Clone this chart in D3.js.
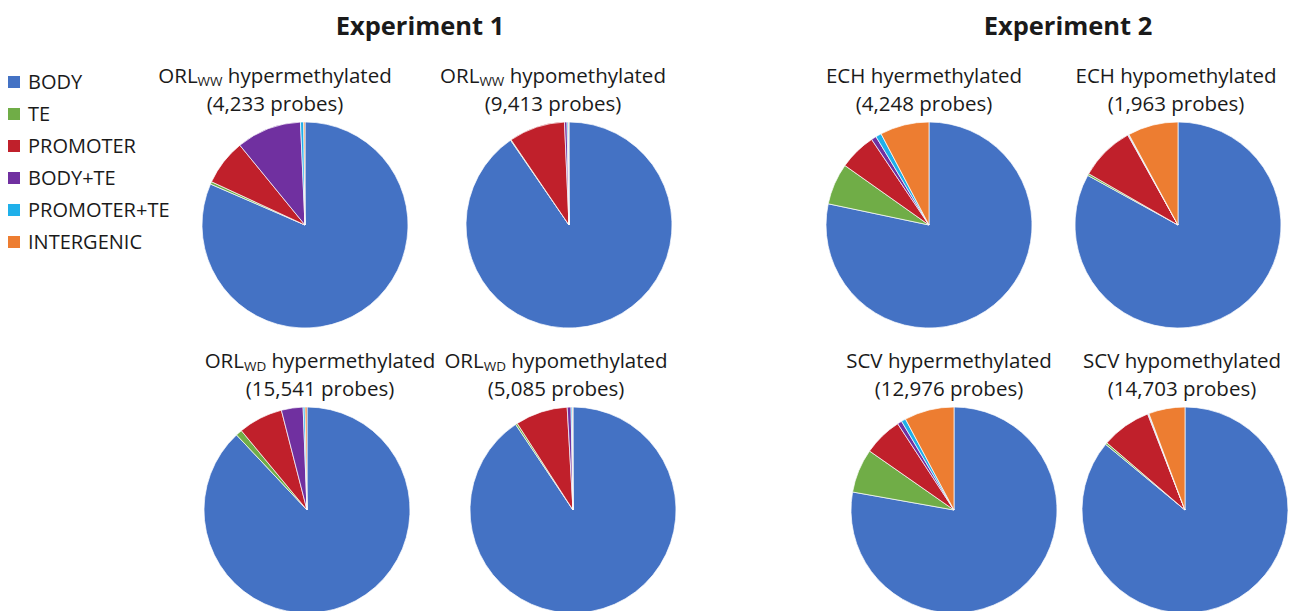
<!DOCTYPE html>
<html lang="en">
<head>
	<meta charset="UTF-8">
	<title>Methylation probes by genomic region</title>
	<script src="https://d3js.org/d3.v7.min.js"></script>
	<style>
		body {
			margin: 0;
			background: #fff;
		}
		svg {
			display: block;
			font-family: "Open Sans", sans-serif;
			fill: #1a1a1a;
		}
		.head {
			font-weight: bold;
			font-size: 25.5px;
		}
		.label {
			font-size: 20.5px;
		}
		.legend text {
			font-size: 20px;
		}
	</style>
</head>
<body>
<script>
	// categories (legend order = slice order, clockwise from 12 o'clock)
	var categories = ["BODY", "TE", "PROMOTER", "BODY+TE", "PROMOTER+TE", "INTERGENIC"];

	// panel labels
	var prefixes = ["ORL", "ORL", "ORL", "ORL", "ECH", "ECH", "SCV", "SCV"];
	var subscripts = ["WW", "WW", "WD", "WD", "", "", "", ""];
	var kinds = ["hypermethylated", "hypomethylated", "hypermethylated", "hypomethylated",
		"hyermethylated", "hypomethylated", "hypermethylated", "hypomethylated"];
	var probes = ["4,233", "9,413", "15,541", "5,085", "4,248", "1,963", "12,976", "14,703"];

	// percentages per category
	var orlWwHyper = [81.5, 0.4, 7.2, 10.2, 0.5, 0.2];
	var orlWwHypo  = [90.4, 0.1, 8.8, 0.4, 0.2, 0.1];
	var orlWdHyper = [88.0, 1.0, 7.0, 3.4, 0.3, 0.3];
	var orlWdHypo  = [90.6, 0.3, 8.2, 0.6, 0.2, 0.1];
	var echHyper   = [78.3, 6.5, 5.8, 0.8, 0.9, 7.7];
	var echHypo    = [83.0, 0.3, 8.6, 0.1, 0.1, 7.9];
	var scvHyper   = [77.8, 6.9, 6.1, 0.7, 0.7, 7.8];
	var scvHypo    = [86.0, 0.3, 7.8, 0.1, 0.1, 5.7];

	var series = [orlWwHyper, orlWwHypo, orlWdHyper, orlWdHypo, echHyper, echHypo, scvHyper, scvHypo];

	var experiments = ["Experiment 1", "Experiment 2"];

	// layout
	var width = 1292,
		height = 611,
		radius = 103;

	var colors = ["#4472C4", "#70AD47", "#C0202B", "#7030A0", "#1FB0EA", "#ED7D31"];
	var color = d3.scaleOrdinal().domain(categories).range(colors);

	// pie centres and title centres for each panel
	var pieCenters = [[305, 225], [569, 225], [307, 510], [573, 510],
		[929, 225], [1178, 225], [954, 510], [1185, 510]];
	var titleCenters = [[275, 83], [553, 83], [320, 368], [556, 368],
		[924, 83], [1176, 83], [949, 368], [1182, 368]];
	var headCenters = [[420, 35], [1068, 35]];

	var svg = d3.select("body").append("svg")
		.attr("width", width)
		.attr("height", height);

	svg.selectAll(".head")
		.data(experiments)
		.enter().append("text")
		.attr("class", "head")
		.attr("x", function (d, i) { return headCenters[i][0]; })
		.attr("y", function (d, i) { return headCenters[i][1]; })
		.attr("text-anchor", "middle")
		.text(function (d) { return d; });

	var pie = d3.pie().sort(null).value(function (d) { return d; });
	var arc = d3.arc().innerRadius(0).outerRadius(radius);

	// pies
	var panels = svg.selectAll(".panel")
		.data(series)
		.enter().append("g")
		.attr("class", "panel")
		.attr("transform", function (d, i) {
			return "translate(" + pieCenters[i][0] + "," + pieCenters[i][1] + ")";
		});

	panels.selectAll("path")
		.data(function (d) { return pie(d); })
		.enter().append("path")
		.attr("d", arc)
		.style("fill", function (d, i) { return color(categories[i]); })
		.style("stroke", "#fff")
		.style("stroke-width", 0.7)
		.style("stroke-linejoin", "round");

	// titles: first line as one text, probe count as a second text
	var titles = svg.selectAll(".label")
		.data(kinds)
		.enter().append("text")
		.attr("class", "label")
		.attr("text-anchor", "middle")
		.attr("x", function (d, i) { return titleCenters[i][0]; })
		.attr("y", function (d, i) { return titleCenters[i][1]; });

	titles.each(function (d, i) {
		var t = d3.select(this);
		t.append("tspan").text(prefixes[i]);
		if (subscripts[i]) {
			t.append("tspan")
				.attr("dy", 3)
				.style("font-size", "13.5px")
				.text(subscripts[i]);
			t.append("tspan").attr("dy", -3).text(" " + d);
		} else {
			t.append("tspan").text(" " + d);
		}
	});

	svg.selectAll(".count")
		.data(probes)
		.enter().append("text")
		.attr("class", "label count")
		.attr("text-anchor", "middle")
		.attr("x", function (d, i) { return titleCenters[i][0]; })
		.attr("y", function (d, i) { return titleCenters[i][1] + 28; })
		.text(function (d) { return "(" + d + " probes)"; });

	// legend
	var legend = svg.append("g")
		.attr("class", "legend")
		.attr("transform", "translate(8,82)");

	var rows = legend.selectAll("g")
		.data(categories)
		.enter().append("g")
		.attr("transform", function (d, i) { return "translate(0," + (i * 32) + ")"; });

	rows.append("rect")
		.attr("x", 0)
		.attr("y", -6)
		.attr("width", 12)
		.attr("height", 12)
		.style("fill", function (d) { return color(d); });

	rows.append("text")
		.attr("x", 20)
		.attr("dy", "0.35em")
		.text(function (d) { return d; });
</script>
</body>
</html>
